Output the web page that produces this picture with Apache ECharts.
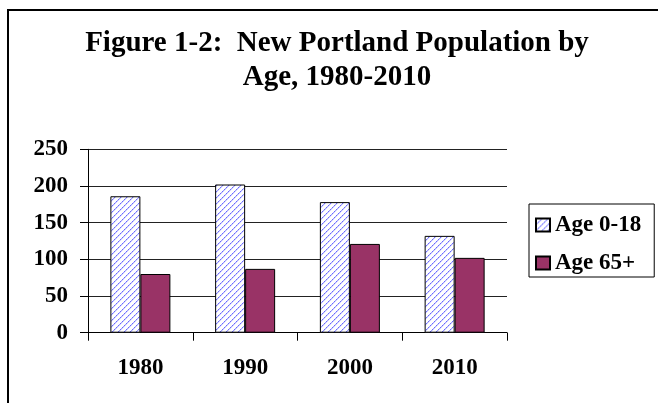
<!DOCTYPE html>
<html>
<head>
<meta charset="utf-8">
<script src="https://cdn.jsdelivr.net/npm/echarts@6/dist/echarts.min.js"></script>
<style>
html,body{margin:0;padding:0;background:#fff;}
#main{width:658px;height:403px;}
</style>
</head>
<body>
<div id="main"></div>
<script>
const categories = ['1980', '1990', '2000', '2010'];
const age0to18 = [186, 202, 178, 132];
const age65plus = [80, 87, 121, 102];
const seriesNames = ['Age 0-18', 'Age 65+'];
const yMin = 0, yMax = 250, yStep = 50;

// hatch pattern for the Age 0-18 bars
const tile = document.createElement('canvas');
tile.width = 6; tile.height = 6;
const tc = tile.getContext('2d');
tc.fillStyle = '#ffffff';
tc.fillRect(0, 0, 6, 6);
for (let i = 0; i < 6; i++) {
  tc.fillStyle = (i % 2 === 0) ? '#6a6aff' : '#9a9aff';
  tc.fillRect(i, 5 - i, 1, 1);
  tc.fillStyle = '#d6d6ff';
  tc.fillRect((i + 1) % 6, 5 - i, 1, 1);
}
const hatch = { image: tile, repeat: 'repeat' };

const FONT = "'Liberation Serif', 'Times New Roman', serif";

const chart = echarts.init(document.getElementById('main'), null, { renderer: 'canvas' });
chart.setOption({
  backgroundColor: '#ffffff',
  animation: false,
  title: {
    text: 'Figure 1-2:  New Portland Population by\nAge, 1980-2010',
    left: 337,
    top: 27,
    textAlign: 'center',
    padding: 0,
    textStyle: {
      fontFamily: FONT,
      fontWeight: 'bold',
      fontSize: 29,
      lineHeight: 34,
      color: '#000'
    }
  },
  graphic: [{
    type: 'rect',
    shape: { x: 8, y: 10, width: 720, height: 460 },
    style: { fill: 'none', stroke: '#000', lineWidth: 2 },
    silent: true,
    z: 100
  }],
  legend: {
    orient: 'vertical',
    left: 529,
    top: 204,
    padding: [9, 13, 2, 6],
    itemGap: 14,
    itemWidth: 14,
    itemHeight: 13,
    borderColor: '#000',
    borderWidth: 1,
    icon: 'rect',
    data: seriesNames,
    textStyle: {
      fontFamily: FONT,
      fontWeight: 'bold',
      fontSize: 23,
      lineHeight: 24,
      color: '#000'
    }
  },
  grid: {
    left: 88,
    right: 151,
    top: 149.3,
    bottom: 70.3
  },
  xAxis: {
    type: 'category',
    data: categories,
    axisLine: { show: true, lineStyle: { color: '#000', width: 1 } },
    axisTick: { show: true, length: 8, interval: 0, alignWithLabel: false, lineStyle: { color: '#000' } },
    axisLabel: {
      margin: 24,
      fontFamily: FONT,
      fontWeight: 'bold',
      fontSize: 23,
      color: '#000'
    },
    splitLine: { show: false }
  },
  yAxis: {
    type: 'value',
    min: yMin,
    max: yMax,
    interval: yStep,
    axisLine: { show: true, lineStyle: { color: '#000', width: 1 } },
    axisTick: { show: true, length: 8, inside: false, lineStyle: { color: '#000' } },
    axisLabel: {
      margin: 20,
      fontFamily: FONT,
      fontWeight: 'bold',
      fontSize: 23,
      color: '#000'
    },
    splitLine: { show: true, lineStyle: { color: '#222', width: 1.2 } }
  },
  series: [
    {
      name: seriesNames[0],
      type: 'bar',
      data: age0to18,
      barWidth: 30,
      barGap: '0%',
      itemStyle: { color: hatch, borderColor: '#000', borderWidth: 1 }
    },
    {
      name: seriesNames[1],
      type: 'bar',
      data: age65plus,
      barWidth: 30,
      barGap: '0%',
      itemStyle: { color: '#993366', borderColor: '#000', borderWidth: 1 }
    }
  ]
});
</script>
</body>
</html>
